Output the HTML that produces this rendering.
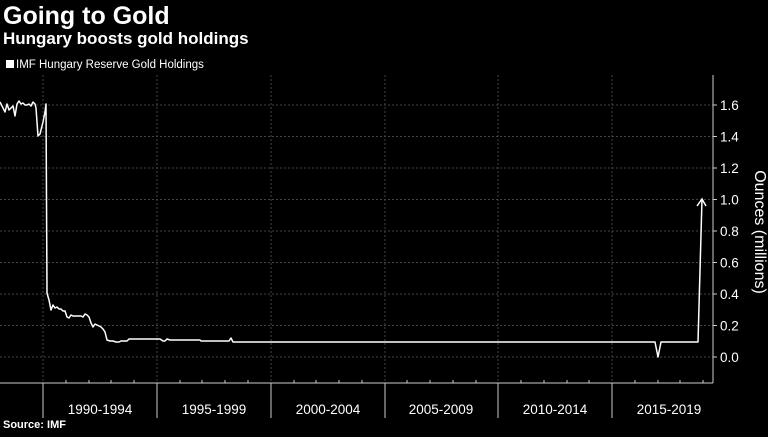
<!DOCTYPE html>
<html><head><meta charset="utf-8"><style>
body{margin:0;background:#000;width:768px;height:432px;overflow:hidden;font-family:"Liberation Sans",sans-serif;}
</style></head><body>
<svg width="768" height="432" xmlns="http://www.w3.org/2000/svg" font-family="Liberation Sans, sans-serif">
<rect width="768" height="432" fill="#000"/>
<text x="3" y="24" fill="#fff" font-size="25" font-weight="bold">Going to Gold</text>
<text x="3" y="44" fill="#fff" font-size="17" font-weight="bold">Hungary boosts gold holdings</text>
<rect x="6" y="60" width="8" height="8" fill="#fff"/>
<text x="16" y="68" fill="#fff" font-size="11.5">IMF Hungary Reserve Gold Holdings</text>
<g stroke="#444" stroke-width="1" stroke-dasharray="2,2">
<line x1="0" x2="713" y1="105" y2="105"/><line x1="0" x2="713" y1="136.5" y2="136.5"/>
<line x1="0" x2="713" y1="168" y2="168"/><line x1="0" x2="713" y1="199.5" y2="199.5"/>
<line x1="0" x2="713" y1="231" y2="231"/><line x1="0" x2="713" y1="262.5" y2="262.5"/>
<line x1="0" x2="713" y1="294" y2="294"/><line x1="0" x2="713" y1="325.5" y2="325.5"/>
<line x1="0" x2="713" y1="357" y2="357"/>
<line x1="43" x2="43" y1="75" y2="383"/><line x1="157" x2="157" y1="75" y2="383"/>
<line x1="271" x2="271" y1="75" y2="383"/><line x1="385" x2="385" y1="75" y2="383"/>
<line x1="498" x2="498" y1="75" y2="383"/><line x1="612" x2="612" y1="75" y2="383"/>
</g>
<g stroke="#ccc" stroke-width="1">
<line x1="713" x2="713" y1="75" y2="383"/><line x1="0" x2="713" y1="383" y2="383"/>
<line x1="43" x2="43" y1="383" y2="418"/><line x1="157" x2="157" y1="383" y2="418"/>
<line x1="271" x2="271" y1="383" y2="418"/><line x1="385" x2="385" y1="383" y2="418"/>
<line x1="498" x2="498" y1="383" y2="418"/><line x1="612" x2="612" y1="383" y2="418"/>
</g>
<g stroke="#ccc" stroke-width="1">
<path d="M713 105h4M713 136.5h4M713 168h4M713 199.5h4M713 231h4M713 262.5h4M713 294h4M713 325.5h4M713 357h4"/>
<path d="M66 383v-3M89 383v-3M111 383v-3M134 383v-3M180 383v-3M202 383v-3M225 383v-3M248 383v-3M294 383v-3M316 383v-3M339 383v-3M362 383v-3M407 383v-3M430 383v-3M453 383v-3M476 383v-3M521 383v-3M544 383v-3M567 383v-3M589 383v-3M635 383v-3M658 383v-3M680 383v-3M703 383v-3"/>
</g>
<g fill="#fff" font-size="13.5">
<text x="720" y="110">1.6</text><text x="720" y="141.5">1.4</text><text x="720" y="173">1.2</text>
<text x="720" y="204.5">1.0</text><text x="720" y="236">0.8</text><text x="720" y="267.5">0.6</text>
<text x="720" y="299">0.4</text><text x="720" y="330.5">0.2</text><text x="720" y="362">0.0</text>
<text x="100" y="414" text-anchor="middle">1990-1994</text><text x="214" y="414" text-anchor="middle">1995-1999</text>
<text x="328" y="414" text-anchor="middle">2000-2004</text><text x="441" y="414" text-anchor="middle">2005-2009</text>
<text x="555" y="414" text-anchor="middle">2010-2014</text><text x="669" y="414" text-anchor="middle">2015-2019</text>
</g>
<text transform="translate(755,232) rotate(90)" fill="#fff" font-size="16" text-anchor="middle">Ounces (millions)</text>
<text x="3" y="428" fill="#fff" font-size="11" font-weight="bold">Source: IMF</text>
<polyline fill="none" stroke="#fff" stroke-width="1.5" stroke-linejoin="round" points="0,102 3,108 5,112 7,104 9,110 11,108 13,106 15,116 17,104 19,101 21,104 23,103 25,105 27,105 29,104 31,106 33,102 35,104 36,108 38,136 40,134 43,122 45,112 46,104 47,293 49,300 51,310 53,305 55,308 57,307 59,309 61,309 63,311 65,311 67,317 69,318 71,315 73,316 75,316 77,316 79,316 81,316 83,317 85,314 87,315 89,317 91,323 93,327 95,324 97,325 99,326 101,327 103,329 105,332 107,340 110,341 113,341 116,342 119,342 121,341 123,341 125,341 127,341 129,339 131,339 135,339 140,339 145,339 150,339 155,339 160,339 163,341 165,341 167,339 170,340 175,340 180,340 185,340 190,340 195,340 200,340 201,341 210,341 220,341 229,341 231,338 233,342 240,342 300,342 400,342 500,342 600,342 655,342 658,357 661,342 698,342 702,199"/>
<polyline fill="none" stroke="#fff" stroke-width="1.5" points="697,206 702,199 706,206"/>
</svg>
</body></html>
